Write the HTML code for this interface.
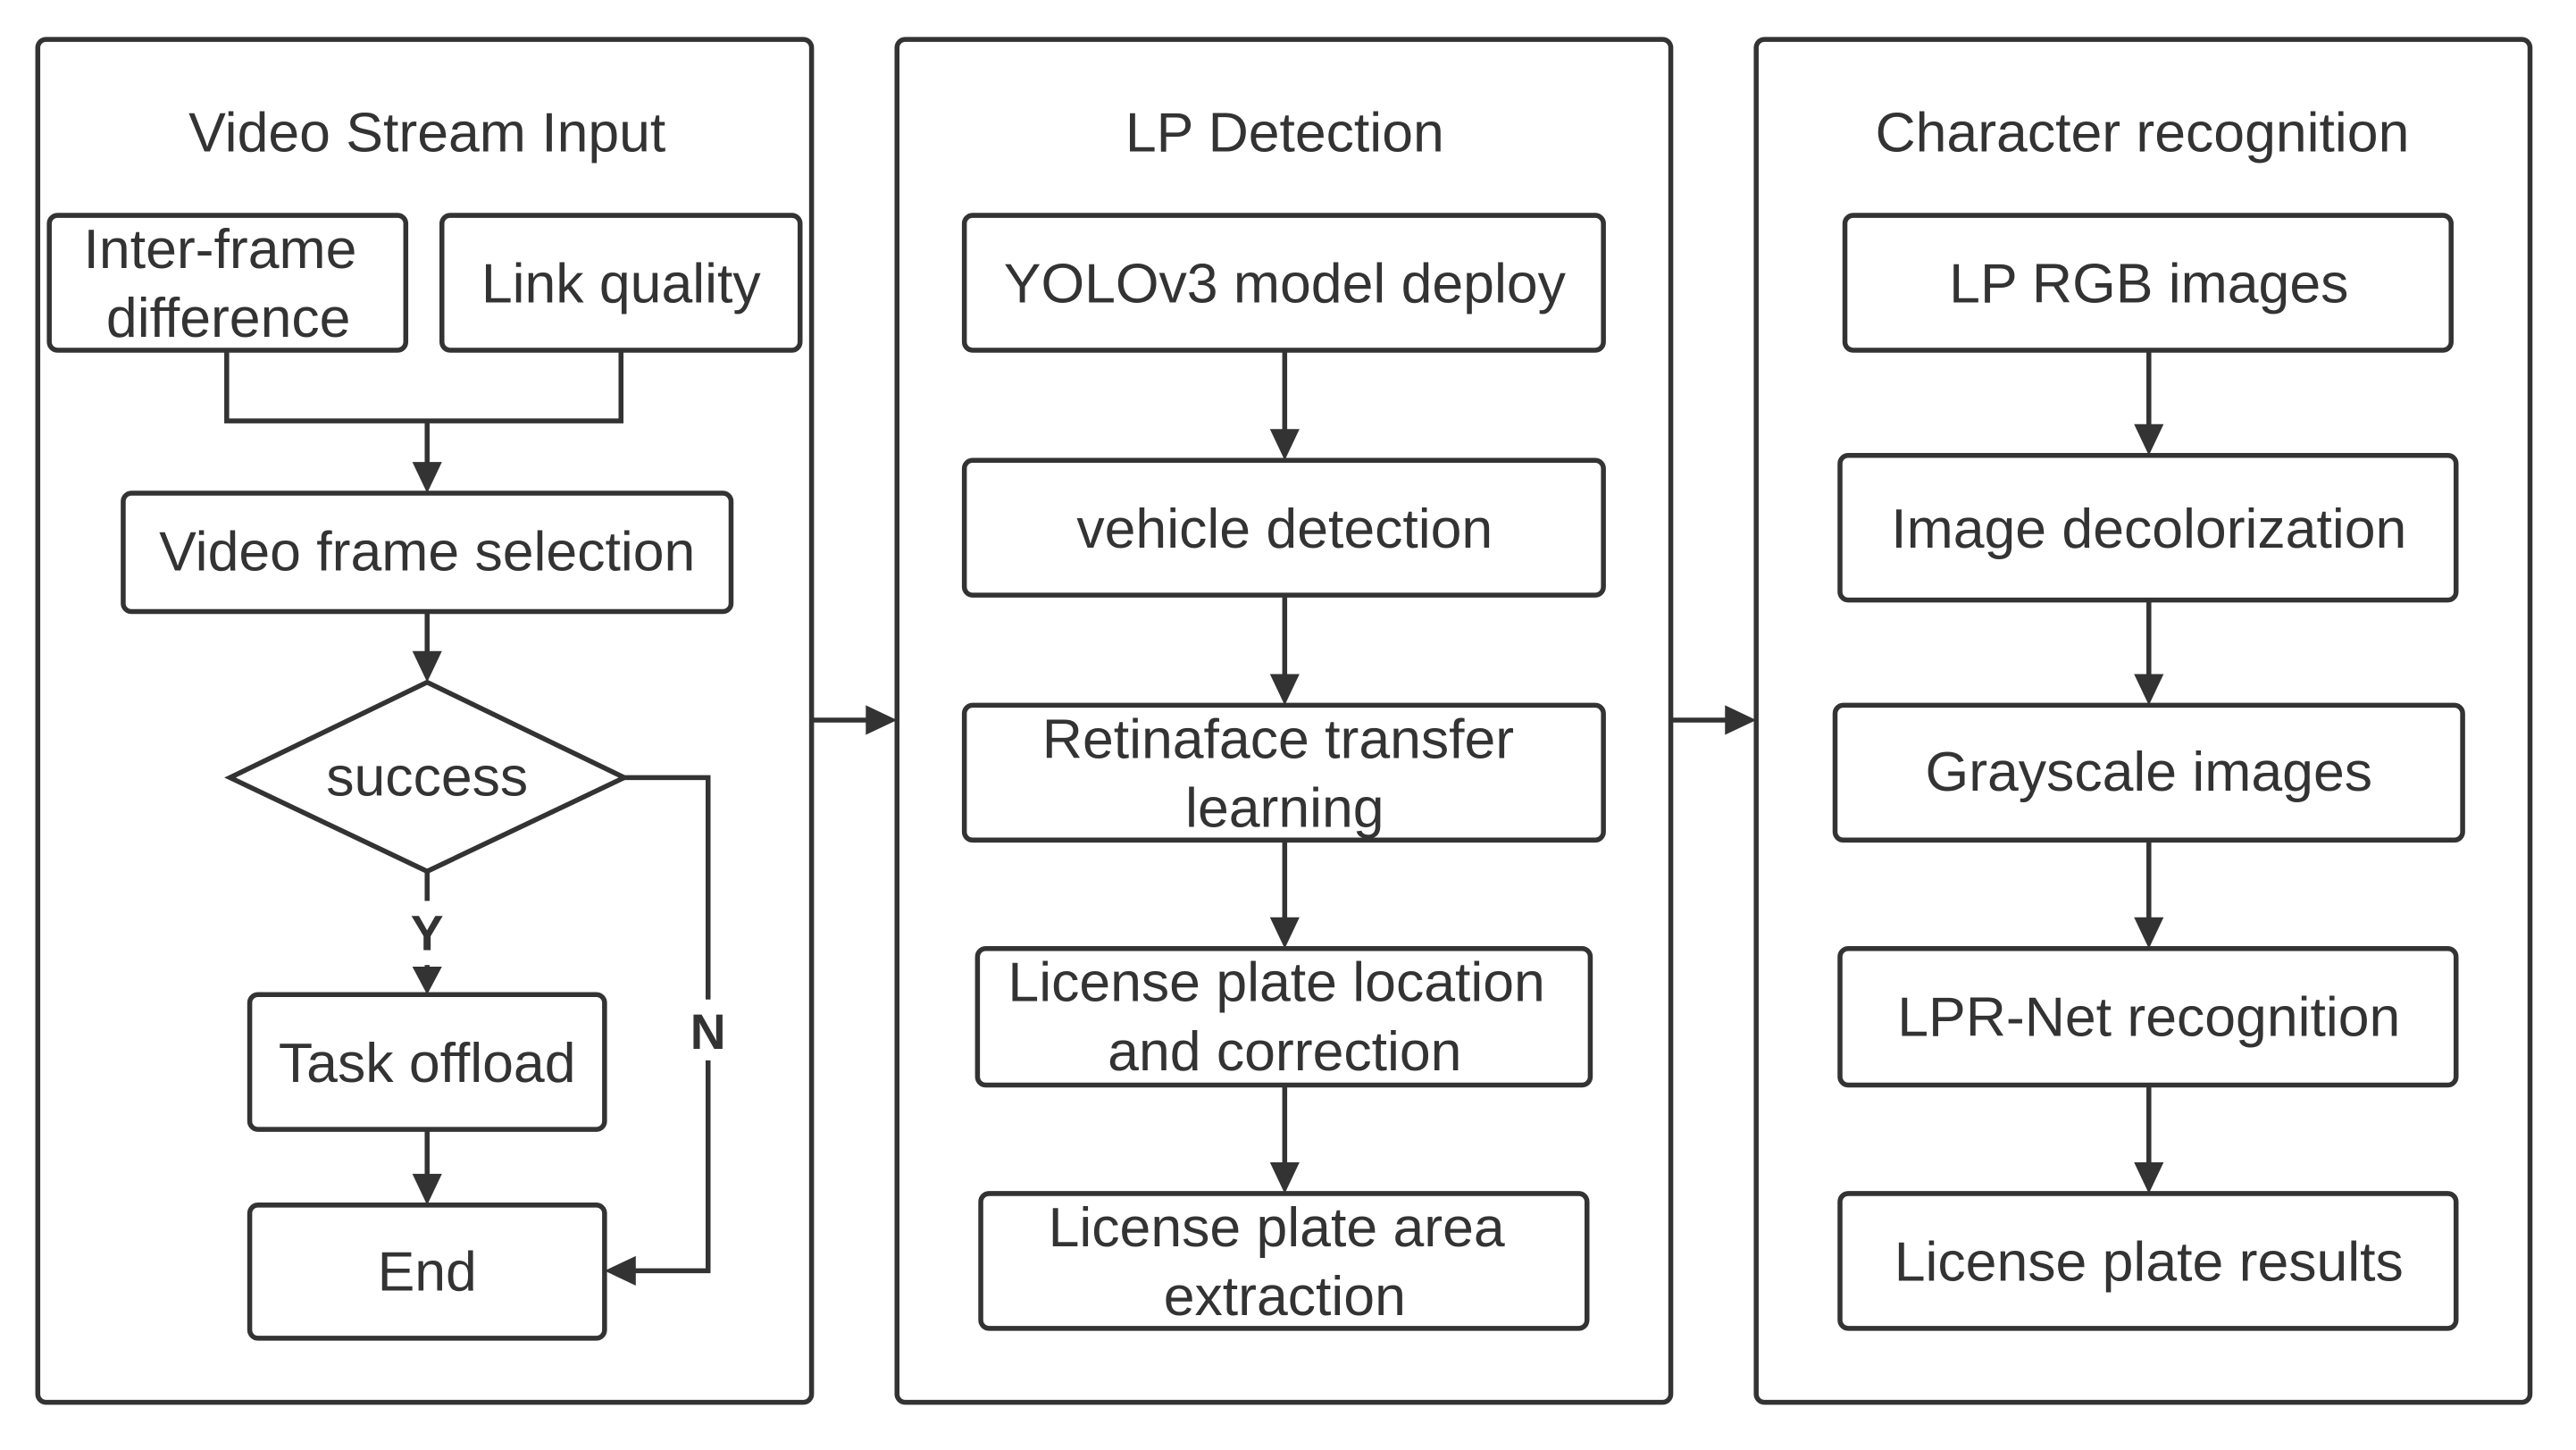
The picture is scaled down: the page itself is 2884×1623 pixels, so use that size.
<!DOCTYPE html>
<html><head><meta charset="utf-8"><style>
html,body{margin:0;padding:0;background:#fff;}
svg{display:block;}
text{font-family:"Liberation Sans",Arial,sans-serif;fill:#333;font-size:34px;text-anchor:middle;}
</style></head><body>
<svg width="2884" height="1623" viewBox="0 0 1568 882" preserveAspectRatio="none" xmlns="http://www.w3.org/2000/svg">
<g fill="none" stroke="#333" stroke-width="3">
<rect x="23" y="24" width="471" height="829" rx="5"/>
<rect x="546" y="24" width="471" height="829" rx="5"/>
<rect x="1069" y="24" width="471" height="829" rx="5"/>
<rect x="30" y="131" width="217" height="82" rx="5"/>
<rect x="269" y="131" width="218" height="82" rx="5"/>
<rect x="75" y="300" width="370" height="72" rx="5"/>
<polygon points="140,473 260,415 380,473 260,530"/>
<rect x="152" y="605" width="216" height="82" rx="5"/>
<rect x="152" y="733" width="216" height="81" rx="5"/>
<polyline points="138,213 138,256 378,256 378,213"/>
<line x1="260" y1="256" x2="260" y2="285"/>
<line x1="260" y1="372" x2="260" y2="400"/>
<line x1="260" y1="530" x2="260" y2="548"/>
<line x1="260" y1="587" x2="260" y2="592"/>
<line x1="260" y1="687" x2="260" y2="718"/>
<polyline points="380,473 431,473 431,608"/>
<polyline points="431,645 431,773 383,773"/>
<rect x="587" y="131" width="389" height="82" rx="5"/>
<rect x="587" y="280" width="389" height="82" rx="5"/>
<rect x="587" y="429" width="389" height="82" rx="5"/>
<rect x="595" y="577" width="373" height="83" rx="5"/>
<rect x="597" y="726" width="369" height="82" rx="5"/>
<line x1="782" y1="213" x2="782" y2="265"/>
<line x1="782" y1="362" x2="782" y2="414"/>
<line x1="782" y1="511" x2="782" y2="562"/>
<line x1="782" y1="660" x2="782" y2="711"/>
<rect x="1123" y="131" width="369" height="82" rx="5"/>
<rect x="1120" y="277" width="375" height="88" rx="5"/>
<rect x="1117" y="429" width="382" height="82" rx="5"/>
<rect x="1120" y="577" width="375" height="83" rx="5"/>
<rect x="1120" y="726" width="375" height="82" rx="5"/>
<line x1="1308" y1="213" x2="1308" y2="262"/>
<line x1="1308" y1="365" x2="1308" y2="414"/>
<line x1="1308" y1="511" x2="1308" y2="562"/>
<line x1="1308" y1="660" x2="1308" y2="711"/>
<line x1="494" y1="438" x2="530" y2="438"/>
<line x1="1017" y1="438" x2="1053" y2="438"/>
</g>
<g fill="#333">
<polygon points="251,281 269,281 260,300"/>
<polygon points="251,396 269,396 260,415"/>
<polygon points="251,588 269,588 260,605"/>
<polygon points="251,714 269,714 260,733"/>
<polygon points="387,764 387,782 368,773"/>
<polygon points="773,261 791,261 782,280"/>
<polygon points="773,410 791,410 782,429"/>
<polygon points="773,558 791,558 782,577"/>
<polygon points="773,707 791,707 782,726"/>
<polygon points="1299,258 1317,258 1308,277"/>
<polygon points="1299,410 1317,410 1308,429"/>
<polygon points="1299,558 1317,558 1308,577"/>
<polygon points="1299,707 1317,707 1308,726"/>
<polygon points="527,429 527,447 546,438"/>
<polygon points="1050,429 1050,447 1069,438"/>
</g>
<text x="260" y="92">Video Stream Input</text>
<text x="782" y="92">LP Detection</text>
<text x="1304" y="92">Character recognition</text>
<text x="134" y="163">Inter-frame</text>
<text x="139" y="205">difference</text>
<text x="378" y="184">Link quality</text>
<text x="260" y="347">Video frame selection</text>
<text x="260" y="484">success</text>
<text x="260" y="578" style="font-weight:bold;font-size:30px">Y</text>
<text x="431" y="638" style="font-weight:bold;font-size:30px">N</text>
<text x="260" y="658">Task offload</text>
<text x="260" y="785">End</text>
<text x="782" y="184">YOLOv3 model deploy</text>
<text x="782" y="333">vehicle detection</text>
<text x="778" y="461">Retinaface transfer</text>
<text x="782" y="503">learning</text>
<text x="777" y="609">License plate location</text>
<text x="782" y="651">and correction</text>
<text x="777" y="758">License plate area</text>
<text x="782" y="800">extraction</text>
<text x="1308" y="184">LP RGB images</text>
<text x="1308" y="333">Image decolorization</text>
<text x="1308" y="481">Grayscale images</text>
<text x="1308" y="630">LPR-Net recognition</text>
<text x="1308" y="779">License plate results</text>
</svg>
</body></html>
